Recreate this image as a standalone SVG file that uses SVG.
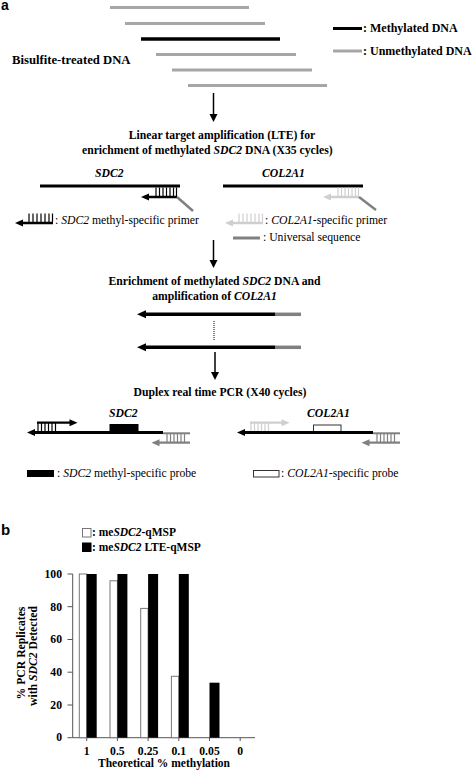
<svg xmlns="http://www.w3.org/2000/svg" width="472" height="776" viewBox="0 0 472 776">
<style>
text{font-family:"Liberation Serif","Times New Roman",serif;font-size:11.7px;fill:#000}
.b{font-weight:bold}
.i{font-style:italic}
.r{font-weight:normal}
.lab{font-family:"Liberation Sans",Arial,sans-serif;font-weight:bold;font-size:14px}
.mid{text-anchor:middle}
.end{text-anchor:end}
.blk{stroke:#000;stroke-width:3;fill:none}
.gry{stroke:#a6a6a6;stroke-width:3;fill:none}
.uni{stroke:#808080;stroke-width:3;fill:none}
.lgt{stroke:#cfcfcf;stroke-width:3;fill:none}
.tk{stroke-width:1.2;fill:none}
.arr{stroke:#000;stroke-width:1.5;fill:none}
.ax{stroke:#555;stroke-width:1;fill:none}
.wbar{fill:#fff;stroke:#777;stroke-width:1}
.kbar{fill:#000}
</style>
<rect width="472" height="776" fill="#fff"/>

<text class="lab" x="1" y="10">a</text>
<text class="lab" x="1" y="535" style="font-size:15px">b</text>

<g id="bisulfite-dna">
<line class="gry" x1="110" y1="7.5" x2="249" y2="7.5"/>
<line class="gry" x1="125" y1="23.5" x2="265" y2="23.5"/>
<line class="blk" x1="141" y1="39" x2="280" y2="39" style="stroke-width:3.5"/>
<line class="gry" x1="156" y1="54.5" x2="296" y2="54.5"/>
<line class="gry" x1="172" y1="70" x2="312" y2="70"/>
<line class="gry" x1="188" y1="85.5" x2="327" y2="85.5"/>
<text class="b" x="12" y="64" style="font-size:12.7px">Bisulfite-treated DNA</text>
</g>

<g id="legend-dna">
<line class="blk" x1="333" y1="28.5" x2="362" y2="28.5"/>
<text class="b" x="363" y="32" style="font-size:12px">: Methylated DNA</text>
<line class="gry" x1="333" y1="51" x2="362" y2="51"/>
<text class="b" x="363" y="55" style="font-size:12px">: Unmethylated DNA</text>
</g>

<g id="connectors">
<line class="arr" x1="213.5" y1="93" x2="213.5" y2="115"/>
<polygon points="209.5,114 217.5,114 213.5,122" fill="#000"/>
<line class="arr" x1="213.5" y1="240" x2="213.5" y2="261"/>
<polygon points="209.5,260 217.5,260 213.5,268" fill="#000"/>
<line x1="214" y1="321" x2="214" y2="340" stroke="#000" stroke-width="1" stroke-dasharray="1,1"/>
<line class="arr" x1="215" y1="352" x2="215" y2="373"/>
<polygon points="211,372 219,372 215,380" fill="#000"/>
</g>

<g id="lte-step">
<text class="b mid" x="222" y="139">Linear target amplification (LTE) for</text>
<text class="b" x="82" y="154">enrichment of methylated <tspan class="i">SDC2</tspan> DNA (X35 cycles)</text>
</g>

<g id="lte-sdc2">
<text class="b i" x="95" y="177">SDC2</text>
<line class="blk" x1="40" y1="186" x2="180" y2="186"/>
<line class="blk" x1="147" y1="197" x2="177" y2="197" style="stroke-width:2.5"/>
<polygon points="141,197 149,193.5 149,200.5" fill="#000"/>
<path class="tk" stroke="#000" d="M156,187.5V196M159.5,187.5V196M163,187.5V196M166.5,187.5V196M170,187.5V196M173.5,187.5V196M176.5,187.5V198"/>
<line class="uni" x1="177" y1="197" x2="193" y2="211" style="stroke-width:2.5"/>
</g>

<g id="lte-col2a1">
<text class="b i" x="262" y="177">COL2A1</text>
<line class="blk" x1="223" y1="186" x2="363" y2="186"/>
<line class="lgt" x1="329" y1="197" x2="359" y2="197" style="stroke-width:2.5"/>
<polygon points="323,197 331,193.5 331,200.5" fill="#cfcfcf"/>
<path class="tk" stroke="#cfcfcf" d="M338,187.5V196M341.5,187.5V196M345,187.5V196M348.5,187.5V196M352,187.5V196M355.5,187.5V196M358.5,187.5V198"/>
<line class="uni" x1="359" y1="197" x2="376" y2="210" style="stroke-width:2.5"/>
</g>

<g id="legend-primers">
<line class="blk" x1="21" y1="223" x2="53" y2="223" style="stroke-width:2.5"/>
<polygon points="15,223 23,219.5 23,226.5" fill="#000"/>
<path class="tk" stroke="#000" d="M29,213.5V222M33,213.5V222M37,213.5V222M41,213.5V222M45,213.5V222M49,213.5V222M52.5,213.5V222"/>
<text class="r" x="55" y="224">: <tspan class="i">SDC2</tspan> methyl-specific primer</text>
<line class="lgt" x1="231" y1="223" x2="263" y2="223" style="stroke-width:2.5"/>
<polygon points="225,223 233,219.5 233,226.5" fill="#cfcfcf"/>
<path class="tk" stroke="#cfcfcf" d="M239,213.5V222M243,213.5V222M247,213.5V222M251,213.5V222M255,213.5V222M259,213.5V222M262.5,213.5V222"/>
<text class="r" x="265" y="224">: <tspan class="i">COL2A1</tspan>-specific primer</text>
<line class="uni" x1="233" y1="238" x2="260" y2="238"/>
<text class="r" x="263" y="241">: Universal sequence</text>
</g>

<g id="enrichment-step">
<text class="b mid" x="214.5" y="285">Enrichment of methylated <tspan class="i">SDC2</tspan> DNA and</text>
<text class="b mid" x="214.5" y="300">amplification of <tspan class="i">COL2A1</tspan></text>
<line class="blk" x1="143" y1="314.3" x2="275" y2="314.3" style="stroke-width:3.5"/>
<line class="uni" x1="275" y1="314.3" x2="301" y2="314.3" style="stroke-width:3.5"/>
<polygon points="137,314.3 146,310.3 146,318.3" fill="#000"/>
<line class="blk" x1="143" y1="347.3" x2="275" y2="347.3" style="stroke-width:3.5"/>
<line class="uni" x1="275" y1="347.3" x2="301" y2="347.3" style="stroke-width:3.5"/>
<polygon points="137,347.3 146,343.3 146,351.3" fill="#000"/>
</g>

<g id="pcr-step">
<text class="b mid" x="220" y="395.7">Duplex real time PCR (X40 cycles)</text>
</g>

<g id="pcr-sdc2">
<text class="b i" x="109" y="417">SDC2</text>
<rect x="109.5" y="424" width="29" height="8" fill="#000"/>
<line class="blk" x1="33" y1="432.5" x2="163" y2="432.5"/>
<polygon points="27,432.5 35,429 35,436" fill="#000"/>
<line class="blk" x1="37" y1="422.7" x2="71" y2="422.7" style="stroke-width:2.2"/>
<polygon points="77.5,422.7 69.5,419.2 69.5,426.2" fill="#000"/>
<path class="tk" stroke="#000" d="M38,423V431M41.5,423V431M45,423V431M48.5,423V431M52,423V431M55.5,423V431"/>
<line class="uni" x1="163" y1="433.3" x2="190" y2="433.3" style="stroke-width:2"/>
<line class="uni" x1="157" y1="442.7" x2="190" y2="442.7" style="stroke-width:2.2"/>
<polygon points="151.5,442.7 159.5,439.2 159.5,446.2" fill="#808080"/>
<path class="tk" stroke="#808080" d="M167,434V442M170.5,434V442M174,434V442M177.5,434V442M181,434V442M184.5,434V442"/>
</g>

<g id="pcr-col2a1">
<text class="b i" x="307" y="417">COL2A1</text>
<rect x="313.5" y="425" width="27.5" height="7" fill="#fff" stroke="#333" stroke-width="1"/>
<line class="blk" x1="243" y1="432.5" x2="373" y2="432.5"/>
<polygon points="237,432.5 245,429 245,436" fill="#000"/>
<line class="lgt" x1="250" y1="422.7" x2="283" y2="422.7" style="stroke-width:2.2"/>
<polygon points="289.5,422.7 281.5,419.2 281.5,426.2" fill="#cfcfcf"/>
<path class="tk" stroke="#cfcfcf" d="M251,423V431M254.5,423V431M258,423V431M261.5,423V431M265,423V431M268.5,423V431"/>
<line class="uni" x1="373" y1="433.3" x2="400" y2="433.3" style="stroke-width:2"/>
<line class="uni" x1="367" y1="442.7" x2="400" y2="442.7" style="stroke-width:2.2"/>
<polygon points="361.5,442.7 369.5,439.2 369.5,446.2" fill="#808080"/>
<path class="tk" stroke="#808080" d="M377,434V442M380.5,434V442M384,434V442M387.5,434V442M391,434V442M394.5,434V442"/>
</g>

<g id="legend-probes">
<rect x="27" y="470" width="27" height="7" fill="#000"/>
<text class="r" x="57" y="477">: <tspan class="i">SDC2</tspan> methyl-specific probe</text>
<rect x="253.5" y="470.5" width="25.5" height="6.5" fill="#fff" stroke="#333" stroke-width="1"/>
<text class="r" x="281" y="477">: <tspan class="i">COL2A1</tspan>-specific probe</text>
</g>

<g id="chart-legend">
<rect class="wbar" x="82.5" y="528.5" width="8.5" height="8.5"/>
<text class="b" x="92" y="535.5" style="font-size:11.5px">: me<tspan class="i">SDC2</tspan>-qMSP</text>
<rect class="kbar" x="82" y="542.5" width="9.5" height="9.5"/>
<text class="b" x="92" y="551" style="font-size:11.5px">: me<tspan class="i">SDC2</tspan> LTE-qMSP</text>
</g>

<g id="chart">
<path class="ax" d="M72.7,574V737.7H255M67.5,574H72.7M67.5,606.7H72.7M67.5,639.5H72.7M67.5,672.2H72.7M67.5,705H72.7M67.5,737.7H72.7M86.7,737.7V741M117.4,737.7V741M148.1,737.7V741M178.8,737.7V741M209.5,737.7V741M240.2,737.7V741"/>
<g class="b end" style="font-size:11px">
<text x="62" y="577.5">100</text>
<text x="62" y="610.5">80</text>
<text x="62" y="643.3">60</text>
<text x="62" y="676">40</text>
<text x="62" y="708.7">20</text>
<text x="62" y="741.4">0</text>
</g>
<rect class="wbar" x="79.3" y="574" width="7.4" height="163.7"/>
<rect class="kbar" x="86.7" y="574" width="10" height="163.7"/>
<rect class="wbar" x="110" y="580.8" width="7.4" height="156.9"/>
<rect class="kbar" x="117.4" y="574" width="10" height="163.7"/>
<rect class="wbar" x="140.7" y="608.4" width="7.4" height="129.3"/>
<rect class="kbar" x="148.1" y="574" width="10" height="163.7"/>
<rect class="wbar" x="171.4" y="676.3" width="7.4" height="61.4"/>
<rect class="kbar" x="178.8" y="574" width="10" height="163.7"/>
<rect class="kbar" x="209.5" y="682.7" width="10" height="55"/>
<g class="b mid">
<g style="font-size:11px">
<text x="86.7" y="755">1</text>
<text x="117.4" y="755">0.5</text>
<text x="148.1" y="755">0.25</text>
<text x="178.8" y="755">0.1</text>
<text x="209.5" y="755">0.05</text>
<text x="240.2" y="755">0</text>
</g>
<text x="164" y="767" style="font-size:11.5px">Theoretical % methylation</text>
<text transform="translate(25,653) rotate(-90)">% PCR Replicates</text>
<text transform="translate(37.3,656) rotate(-90)">with <tspan class="i">SDC2</tspan> Detected</text>
</g>
</g>
</svg>
